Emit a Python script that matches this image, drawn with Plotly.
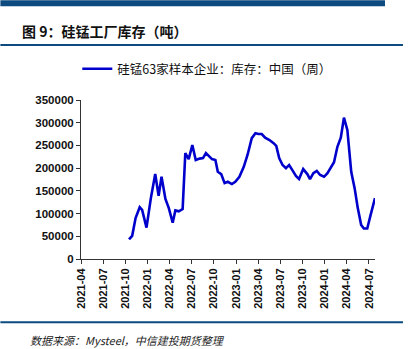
import plotly.graph_objects as go

# Weekly inventory of 63 sampled silicomanganese producers (tonnes)
dates = [
    "2021-10-16", "2021-10-29", "2021-11-12", "2021-11-29", "2021-12-09", "2021-12-27",
    "2022-01-14", "2022-02-01", "2022-02-15", "2022-02-27", "2022-03-15", "2022-03-29",
    "2022-04-14", "2022-04-25", "2022-05-09", "2022-05-25", "2022-06-05", "2022-06-19",
    "2022-07-04", "2022-07-18", "2022-08-03", "2022-08-17", "2022-08-29", "2022-09-13",
    "2022-09-23", "2022-10-07", "2022-10-17", "2022-10-31", "2022-11-14", "2022-11-27",
    "2022-12-14", "2022-12-28", "2023-01-14", "2023-02-01", "2023-02-17", "2023-03-06",
    "2023-03-21", "2023-04-02", "2023-04-16", "2023-04-30", "2023-05-18", "2023-06-04",
    "2023-06-15", "2023-06-27", "2023-07-11", "2023-07-25", "2023-08-07", "2023-08-21",
    "2023-09-04", "2023-09-17", "2023-10-04", "2023-10-21", "2023-11-01", "2023-11-15",
    "2023-11-29", "2023-12-13", "2023-12-29", "2024-01-12", "2024-01-25", "2024-02-08",
    "2024-02-22", "2024-03-07", "2024-03-20", "2024-04-03", "2024-04-19", "2024-05-03",
    "2024-05-16", "2024-05-30", "2024-06-10", "2024-06-24", "2024-07-08", "2024-07-26",
]
inventory = [
    43000, 51000, 90000, 114000, 108000, 69000,
    134000, 187000, 139000, 181000, 132000, 112000,
    80000, 107000, 105000, 110000, 233000, 220000,
    251000, 218000, 221000, 222000, 233000, 224000,
    220000, 218000, 192000, 187000, 167000, 170000,
    165000, 170000, 181000, 203000, 230000, 266000,
    277000, 275000, 275000, 267000, 262000, 255000,
    249000, 222000, 207000, 200000, 207000, 195000,
    183000, 176000, 198000, 187000, 176000, 189000,
    194000, 185000, 181000, 189000, 200000, 213000,
    247000, 267000, 311000, 284000, 192000, 156000,
    112000, 75000, 67000, 67000, 97000, 134000,
]
series_name = "硅锰63家样本企业：库存：中国（周）"
title_text = "图 9：硅锰工厂库存（吨）"
source_text = "数据来源：Mysteel，中信建投期货整理"

W, H = 411, 349
L, R, T, B = 80.7, 36, 100, 89.7
PW, PH = W - L - R, H - T - B

def px(x):
    return (x - L) / PW

def py(y):
    return (H - B - y) / PH

CJK = "Noto Sans CJK SC"
NUM = "Liberation Sans"
DARK_BLUE = "#0d4a80"

fig = go.Figure()
fig.add_trace(go.Scatter(
    x=dates, y=inventory, mode="lines", name=series_name,
    line=dict(color="#0000cc", width=2.6),
))

fig.update_layout(
    width=W, height=H,
    margin=dict(l=L, r=R, t=T, b=B, pad=0),
    paper_bgcolor="white", plot_bgcolor="white",
    showlegend=True,
    legend=dict(
        x=px(77), y=py(69), xanchor="left", yanchor="middle",
        orientation="h", bgcolor="rgba(0,0,0,0)",
        font=dict(family=CJK, size=12.5, color="#111111"),
        itemwidth=30,
    ),
    xaxis=dict(
        type="date",
        range=["2021-04-01", "2024-07-26"],
        tick0="2021-04-01", dtick="M3", tickformat="%Y-%m",
        tickangle=-90,
        ticks="outside", ticklen=4, tickcolor="#333333",
        showline=True, linecolor="#333333", linewidth=1,
        showgrid=False, zeroline=False,
        tickfont=dict(family=NUM, size=11, color="#111111", weight="bold"),
    ),
    yaxis=dict(
        range=[0, 350000], dtick=50000, tickformat="d",
        ticks="outside", ticklen=4, tickcolor="#333333",
        showline=True, linecolor="#333333", linewidth=1,
        showgrid=False, zeroline=False,
        tickfont=dict(family=NUM, size=11.5, color="#111111", weight="bold"),
    ),
)

# Header band, title rule and footer rule
fig.add_shape(type="rect", xref="paper", yref="paper",
              x0=px(0), x1=px(385), y0=py(6), y1=py(0),
              fillcolor=DARK_BLUE, line=dict(width=0), layer="above")
for yy in (45, 322.7):
    fig.add_shape(type="line", xref="paper", yref="paper",
                  x0=px(0), x1=px(403), y0=py(yy), y1=py(yy),
                  line=dict(color=DARK_BLUE, width=2))

fig.add_annotation(text=title_text, xref="paper", yref="paper",
                   x=px(20), y=py(31), xanchor="left", yanchor="middle",
                   showarrow=False,
                   font=dict(family=CJK, size=14, color="#111111", weight="bold"))
fig.add_annotation(text=source_text, xref="paper", yref="paper",
                   x=px(28), y=py(340), xanchor="left", yanchor="middle",
                   showarrow=False,
                   font=dict(family=CJK, size=11, color="#222222", style="italic"))

fig.write_html("out.html")
